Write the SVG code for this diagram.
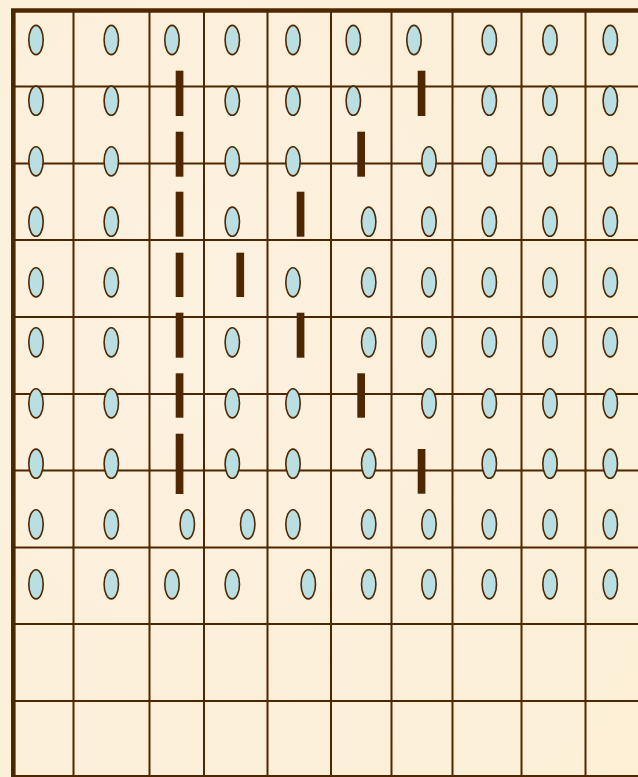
<svg xmlns="http://www.w3.org/2000/svg" width="638" height="777" viewBox="0 0 638 777">
<style>
.g{stroke:#4e2700;stroke-width:2;fill:none}
.b{stroke:#4e2700;stroke-width:4.6;fill:none}
.e{fill:#b9dfe3;stroke:#4e2700;stroke-width:1.6}
.r{fill:#4e2700}
</style>
<defs>
<ellipse id="o" class="e" cx="0" cy="0" rx="7.2" ry="14.6"/>
<radialGradient id="bg" cx="0.3" cy="0.4" r="0.9">
<stop offset="0" stop-color="#fdf1e0"/>
<stop offset="1" stop-color="#fcefd6"/>
</radialGradient>
</defs>
<rect width="638" height="777" fill="url(#bg)"/>
<g id="grid">
<path class="g" d="M73.5 10V777M149.5 10V777M204 10V777M267.5 10V777M331 10V777M391.5 10V777M452.5 10V777M521.5 10V777M585.5 10V777"/>
<path class="g" d="M13 86.5H638M13 163.5H638M13 240H638M13 317H638M13 394H638M13 470.5H638M13 547.5H638M13 624H638M13 701H638M13 776H638"/>
<path class="b" d="M13.3 777V10.5H638"/>
</g>
<g id="ovals">
<g id="row1">
<use href="#o" x="36" y="40"/><use href="#o" x="111.3" y="40"/><use href="#o" x="172" y="40"/><use href="#o" x="232.3" y="40"/><use href="#o" x="293" y="40"/><use href="#o" x="353.3" y="40"/><use href="#o" x="414" y="40"/><use href="#o" x="489.3" y="40"/><use href="#o" x="550" y="40"/><use href="#o" x="610.3" y="40"/>
</g>
<g id="row2">
<use href="#o" x="36" y="100.7"/><use href="#o" x="111.3" y="100.7"/><use href="#o" x="232.3" y="100.7"/><use href="#o" x="293" y="100.7"/><use href="#o" x="353.3" y="100.7"/><use href="#o" x="489.3" y="100.7"/><use href="#o" x="550" y="100.7"/><use href="#o" x="610.3" y="100.7"/>
</g>
<g id="row3">
<use href="#o" x="36" y="161.3"/><use href="#o" x="111.3" y="161.3"/><use href="#o" x="232.3" y="161.3"/><use href="#o" x="293" y="161.3"/><use href="#o" x="429" y="161.3"/><use href="#o" x="489.3" y="161.3"/><use href="#o" x="550" y="161.3"/><use href="#o" x="610.3" y="161.3"/>
</g>
<g id="row4">
<use href="#o" x="36" y="221.7"/><use href="#o" x="111.3" y="221.7"/><use href="#o" x="232.3" y="221.7"/><use href="#o" x="368.7" y="221.7"/><use href="#o" x="429" y="221.7"/><use href="#o" x="489.3" y="221.7"/><use href="#o" x="550" y="221.7"/><use href="#o" x="610.3" y="221.7"/>
</g>
<g id="row5">
<use href="#o" x="36" y="282.3"/><use href="#o" x="111.3" y="282.3"/><use href="#o" x="293" y="282.3"/><use href="#o" x="368.7" y="282.3"/><use href="#o" x="429" y="282.3"/><use href="#o" x="489.3" y="282.3"/><use href="#o" x="550" y="282.3"/><use href="#o" x="610.3" y="282.3"/>
</g>
<g id="row6">
<use href="#o" x="36" y="342.3"/><use href="#o" x="111.3" y="342.3"/><use href="#o" x="232.3" y="342.3"/><use href="#o" x="368.7" y="342.3"/><use href="#o" x="429" y="342.3"/><use href="#o" x="489.3" y="342.3"/><use href="#o" x="550" y="342.3"/><use href="#o" x="610.3" y="342.3"/>
</g>
<g id="row7">
<use href="#o" x="36" y="403.3"/><use href="#o" x="111.3" y="403.3"/><use href="#o" x="232.3" y="403.3"/><use href="#o" x="293" y="403.3"/><use href="#o" x="429" y="403.3"/><use href="#o" x="489.3" y="403.3"/><use href="#o" x="550" y="403.3"/><use href="#o" x="610.3" y="403.3"/>
</g>
<g id="row8">
<use href="#o" x="36" y="463.7"/><use href="#o" x="111.3" y="463.7"/><use href="#o" x="232.3" y="463.7"/><use href="#o" x="293" y="463.7"/><use href="#o" x="368.7" y="463.7"/><use href="#o" x="489.3" y="463.7"/><use href="#o" x="550" y="463.7"/><use href="#o" x="610.3" y="463.7"/>
</g>
<g id="row9">
<use href="#o" x="36" y="524.3"/><use href="#o" x="111.3" y="524.3"/><use href="#o" x="187.3" y="524.3"/><use href="#o" x="247.7" y="524.3"/><use href="#o" x="293" y="524.3"/><use href="#o" x="368.7" y="524.3"/><use href="#o" x="429" y="524.3"/><use href="#o" x="489.3" y="524.3"/><use href="#o" x="550" y="524.3"/><use href="#o" x="610.3" y="524.3"/>
</g>
<g id="row10">
<use href="#o" x="36" y="584.3"/><use href="#o" x="111.3" y="584.3"/><use href="#o" x="172" y="584.3"/><use href="#o" x="232.3" y="584.3"/><use href="#o" x="308.3" y="584.3"/><use href="#o" x="368.7" y="584.3"/><use href="#o" x="429" y="584.3"/><use href="#o" x="489.3" y="584.3"/><use href="#o" x="550" y="584.3"/><use href="#o" x="610.3" y="584.3"/>
</g>
</g>
<g id="bars">
<rect class="r" x="175.7" y="70.7" width="7.7" height="45.3"/>
<rect class="r" x="175.7" y="131.7" width="7.7" height="45"/>
<rect class="r" x="175.7" y="191.7" width="7.7" height="45"/>
<rect class="r" x="175.7" y="252.7" width="7.7" height="44.3"/>
<rect class="r" x="175.7" y="312.7" width="7.7" height="45"/>
<rect class="r" x="175.7" y="373.3" width="7.7" height="44.4"/>
<rect class="r" x="175.7" y="433.7" width="7.7" height="60.3"/>
<rect class="r" x="236.4" y="252.7" width="7.7" height="44.3"/>
<rect class="r" x="296.7" y="191.7" width="7.7" height="45"/>
<rect class="r" x="296.7" y="312.7" width="7.7" height="45"/>
<rect class="r" x="357.3" y="131.7" width="7.7" height="45"/>
<rect class="r" x="357.3" y="373.3" width="7.7" height="44.4"/>
<rect class="r" x="417.7" y="70.7" width="7.7" height="45.3"/>
<rect class="r" x="417.7" y="449" width="7.7" height="44.7"/>
</g>
</svg>
